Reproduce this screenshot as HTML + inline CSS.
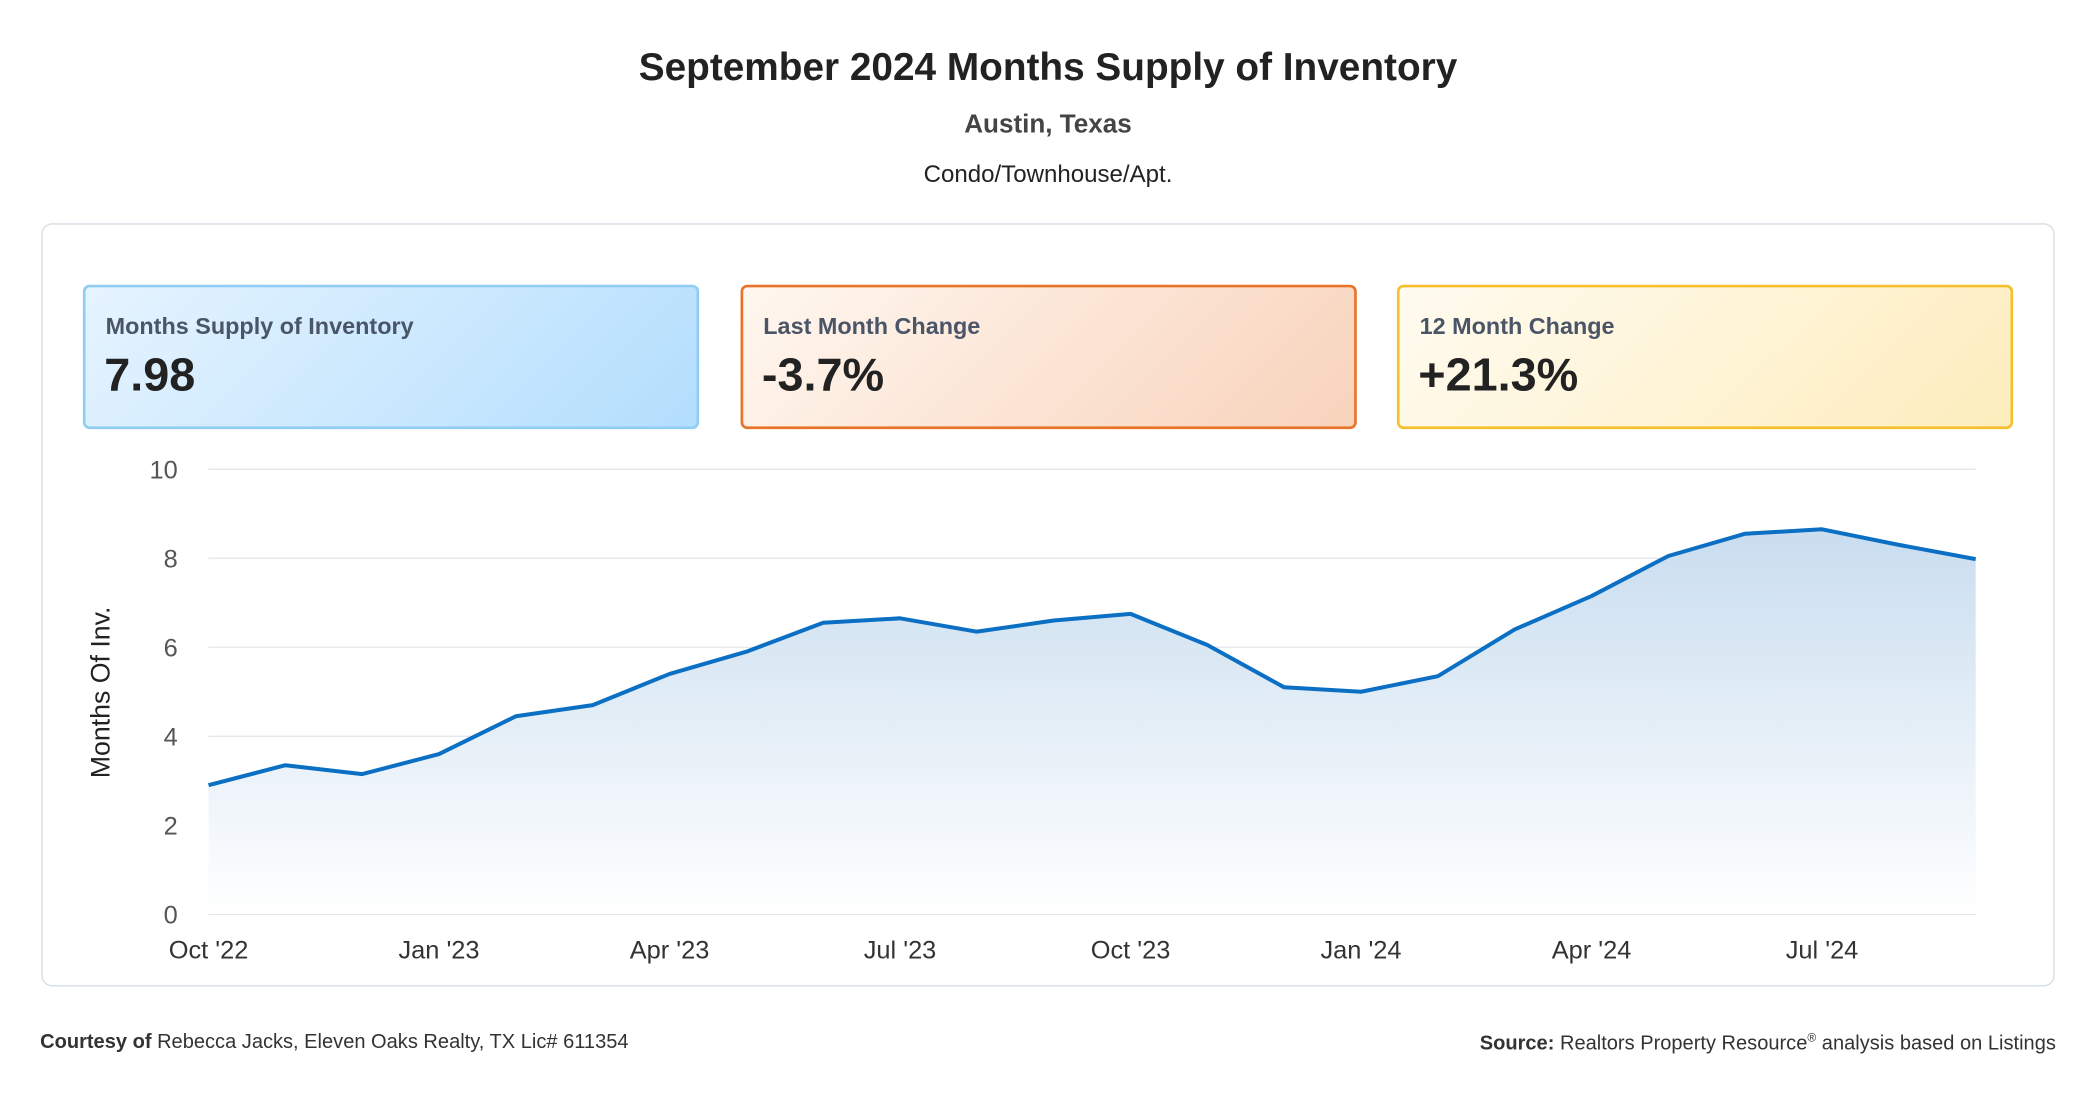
<!DOCTYPE html>
<html><head><meta charset="utf-8">
<style>
html,body{margin:0;padding:0;background:#fff;width:2096px;height:1100px;overflow:hidden}
#wrap{position:absolute;left:0;top:0;width:1568px;height:823px;transform:scale(1.33673);transform-origin:0 0;font-family:"Liberation Sans",sans-serif;color:#222}
.t{position:absolute;left:0;width:1568px;text-align:center}
.card{position:absolute;left:31px;top:167px;width:1506px;height:571px;border:1px solid #d6dee8;border-radius:8px;box-sizing:border-box}
.box{position:absolute;top:213px;height:108px;width:461px;border-radius:5px;box-sizing:border-box;border:2px solid}
.box .l{position:absolute;left:15px;top:19px;font-size:17.5px;font-weight:bold;color:#4a5568}
.box .v{position:absolute;left:14px;top:46px;font-size:35px;font-weight:bold;color:#222}
.foot{position:absolute;top:771px;font-size:15px;color:#333}
</style></head><body>
<div id="wrap">
<div class="t" style="top:35px;font-size:29px;font-weight:bold">September 2024 Months Supply of Inventory</div>
<div class="t" style="top:82px;font-size:19.5px;font-weight:bold;color:#444">Austin, Texas</div>
<div class="t" style="top:120px;font-size:18px;color:#222">Condo/Townhouse/Apt.</div>
<div class="card"></div>
<div class="box" style="left:62px;border-color:#90cdf4;background:linear-gradient(135deg,#e6f4ff,#b3defd)"><div class="l">Months Supply of Inventory</div><div class="v">7.98</div></div>
<div class="box" style="left:554px;border-color:#e8742a;background:linear-gradient(135deg,#fff7f0,#f8d3bb)"><div class="l">Last Month Change</div><div class="v">-3.7%</div></div>
<div class="box" style="left:1045px;border-color:#f5c02c;background:linear-gradient(135deg,#fffbf0,#fdedbd)"><div class="l">12 Month Change</div><div class="v">+21.3%</div></div>
<svg id="chart" width="1568" height="823" style="position:absolute;left:0;top:0">
<defs><linearGradient id="ag" x1="0" y1="0" x2="0" y2="1"><stop offset="0" stop-color="#c9ddef"/><stop offset="1" stop-color="#ffffff"/></linearGradient></defs>
<text transform="translate(82,518) rotate(-90)" text-anchor="middle" font-size="20" fill="#222" font-family="Liberation Sans">Months Of Inv.</text>
</svg>
<div class="foot" style="left:30px"><b>Courtesy of</b> Rebecca Jacks, Eleven Oaks Realty, TX Lic# 611354</div>
<div class="foot" style="right:30px"><b>Source:</b> Realtors Property Resource<sup style="font-size:9px">®</sup> analysis based on Listings</div>
</div>
<script>
const categories=["Oct '22","Nov '22","Dec '22","Jan '23","Feb '23","Mar '23","Apr '23","May '23","Jun '23","Jul '23","Aug '23","Sep '23","Oct '23","Nov '23","Dec '23","Jan '24","Feb '24","Mar '24","Apr '24","May '24","Jun '24","Jul '24","Aug '24","Sep '24"];
const values=[2.9,3.35,3.15,3.6,4.45,4.7,5.4,5.9,6.55,6.65,6.35,6.6,6.75,6.05,5.1,5.0,5.35,6.4,7.15,8.05,8.55,8.65,8.3,7.98];
const yTicks=[0,2,4,6,8,10];
const xTickEvery=3;
const NS="http://www.w3.org/2000/svg";
const svg=document.getElementById('chart');
const X0=156,X1=1478,Y0=684,Y1=351,YMAX=10;
const x=i=>X0+(X1-X0)*i/(categories.length-1);
const y=v=>Y0-(Y0-Y1)*v/YMAX;
function mk(tag,attrs){const e=document.createElementNS(NS,tag);for(const k in attrs)e.setAttribute(k,attrs[k]);svg.appendChild(e);return e;}
yTicks.forEach(t=>{
  const g=mk('line',{x1:X0,x2:X1,y1:y(t),y2:y(t),stroke:t===0?'#cfd6de':'#e3e7eb','stroke-width':1});
  
  
  const l=mk('text',{x:133,y:y(t)+7,'text-anchor':'end','font-size':19,fill:'#555','font-family':'Liberation Sans'});
  l.textContent=t;
  
  
});
categories.forEach((c,i)=>{
  if(i%xTickEvery!==0)return;
  const l=mk('text',{x:x(i),y:717,'text-anchor':'middle','font-size':19,fill:'#333','font-family':'Liberation Sans'});
  l.textContent=c;
  
  
});
let d=values.map((v,i)=>(i?'L':'M')+x(i)+','+y(v)).join(' ');
const area=mk('path',{d:d+' L'+x(values.length-1)+','+Y0+' L'+X0+','+Y0+' Z',fill:'url(#ag)'});


const line=mk('path',{d:d,fill:'none',stroke:'#0b6fc4','stroke-width':3,'stroke-linejoin':'round'});


</script>
</body></html>
